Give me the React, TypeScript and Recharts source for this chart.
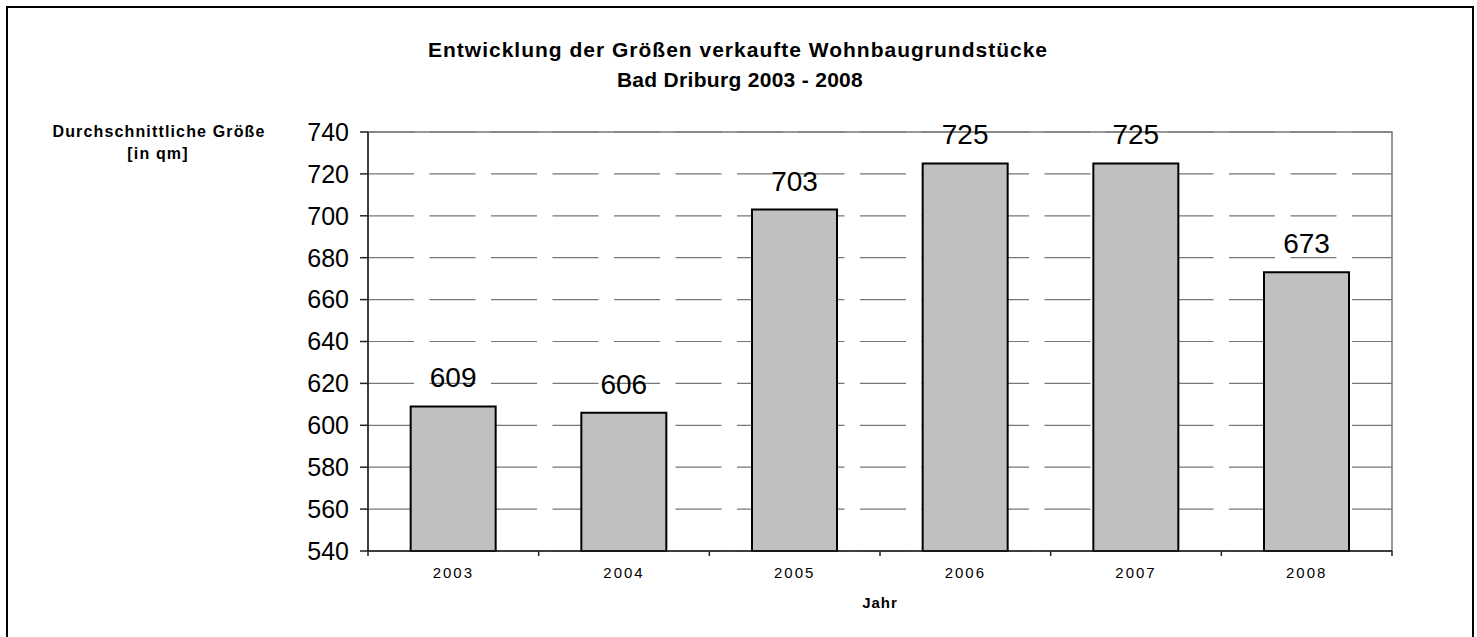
import { BarChart, Bar, XAxis, YAxis, CartesianGrid, LabelList, Label, ReferenceArea } from 'recharts';

const years = ['2003', '2004', '2005', '2006', '2007', '2008'];
const avgSizes = [609, 606, 703, 725, 725, 673];
const yTicks = [540, 560, 580, 600, 620, 640, 660, 680, 700, 720, 740];
const titleLines = ['Entwicklung der Größen verkaufte Wohnbaugrundstücke', 'Bad Driburg 2003 - 2008'];
const yLabelLines = ['Durchschnittliche Größe', '[in qm]'];

const data = years.map((year, i) => ({ year, size: avgSizes[i] }));

const FONT = '"Liberation Sans", Arial, sans-serif';
const AXIS = '#222';
const GRID = '#777';

function YearTick(props: any) {
  const { x, y, payload, index, visibleTicksCount } = props;
  const half = payload.offset ?? 0;
  const last = index === visibleTicksCount - 1;
  return (
    <g>
      <line x1={x - half} y1={y} x2={x - half} y2={y + 5} stroke={AXIS} strokeWidth={1.5} />
      {last && <line x1={x + half} y1={y} x2={x + half} y2={y + 5} stroke={AXIS} strokeWidth={1.5} />}
      <text x={x} y={y + 27} textAnchor="middle" fontSize={15} letterSpacing={2} fill="#000" fontFamily={FONT}>
        {payload.value}
      </text>
    </g>
  );
}

export default function App() {
  return (
    <div style={{ position: 'absolute', left: 0, top: 0, width: 1477, height: 637, overflow: 'hidden', background: '#fff' }}>
      <BarChart
        width={1477}
        height={637}
        data={data}
        margin={{ top: 132, right: 85, left: 308, bottom: 56 }}
        barCategoryGap="25%"
      >
        <CartesianGrid vertical={false} stroke={GRID} strokeWidth={1.2} strokeDasharray="46 15.5" />
        <ReferenceArea y1={540} y2={740} fill="none" fillOpacity={0} stroke={GRID} strokeWidth={1.5} ifOverflow="visible" />
        <XAxis
          dataKey="year"
          height={30}
          axisLine={{ stroke: AXIS, strokeWidth: 1.5 }}
          tickLine={false}
          tickSize={0}
          tickMargin={0}
          tick={<YearTick />}
          interval={0}
        >
          <Label value="Jahr" position="bottom" offset={16} fontSize={15} fontWeight="bold" letterSpacing={1} fill="#000" fontFamily={FONT} />
        </XAxis>
        <YAxis
          width={60}
          domain={[540, 740]}
          ticks={yTicks}
          interval={0}
          axisLine={{ stroke: AXIS, strokeWidth: 1.5 }}
          tickLine={{ stroke: AXIS, strokeWidth: 1.5 }}
          tickSize={8}
          tickMargin={11}
          tick={{ fontSize: 25, fill: '#000', fontFamily: FONT }}
        />
        <Bar dataKey="size" fill="#C0C0C0" stroke="#000" strokeWidth={2} isAnimationActive={false}>
          <LabelList dataKey="size" position="top" offset={19} fill="#000" fontSize={28} fontFamily={FONT} />
        </Bar>
      </BarChart>
      <svg width={1477} height={637} style={{ position: 'absolute', left: 0, top: 0, pointerEvents: 'none' }}>
        <rect x={7} y={7} width={1466} height={700} fill="none" stroke="#000" strokeWidth={2} />
        <text x={738} y={57} textAnchor="middle" fontSize={21} fontWeight="bold" letterSpacing={1} fontFamily={FONT}>
          {titleLines[0]}
        </text>
        <text x={740} y={87} textAnchor="middle" fontSize={21} fontWeight="bold" letterSpacing={0.3} fontFamily={FONT}>
          {titleLines[1]}
        </text>
        <text x={159} y={137} textAnchor="middle" fontSize={16} fontWeight="bold" letterSpacing={1.15} fontFamily={FONT}>
          {yLabelLines[0]}
        </text>
        <text x={158} y={159} textAnchor="middle" fontSize={16} fontWeight="bold" letterSpacing={1.15} fontFamily={FONT}>
          {yLabelLines[1]}
        </text>
      </svg>
    </div>
  );
}
